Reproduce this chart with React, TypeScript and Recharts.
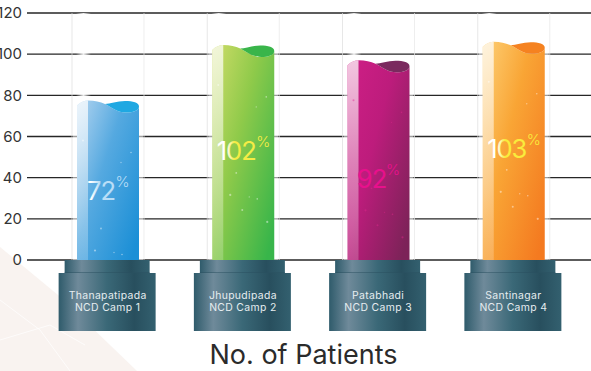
import React from 'react'
import { BarChart, Bar, XAxis, YAxis, CartesianGrid } from 'recharts'

const CAMPS = ['Thanapatipada|NCD Camp 1', 'Jhupudipada|NCD Camp 2', 'Patabhadi|NCD Camp 3', 'Santinagar|NCD Camp 4']
const PATIENTS = [77.5, 104.5, 97, 106]
const PERCENTS = [72, 102, 92, 103]
const Y_TICKS = [0, 20, 40, 60, 80, 100, 120]

const data = CAMPS.map((camp, i) => ({ camp, patients: PATIENTS[i], percent: PERCENTS[i] }))

const FONT = 'Inter, sans-serif'

// colours and the height of the % text above the base line for each tube
const TUBES = [
  { light: '#b4d5f0', mid: '#55a9e0', deep: '#1b8fd6', lens: '#1fa8e2', textL: '#ffffff', textR: '#b9def7', lift: 70 },
  { light: '#cfdc68', mid: '#8fca4a', deep: '#38b54a', lens: '#39b54a', textL: '#ffffff', textR: '#f5ec45', lift: 110 },
  { light: '#cf1f86', mid: '#bd1c7c', deep: '#7c2358', lens: '#7a2a5e', textL: '#e8108c', textR: '#e8108c', lift: 82 },
  { light: '#fdd076', mid: '#f9a535', deep: '#f47a20', lens: '#f58220', textL: '#ffffff', textR: '#f9ec3c', lift: 112 },
]

const SPARKS = [
  [6, 40, 1], [44, 62, 0.7], [54, 52, 0.8], [24, 128, 0.9], [18, 150, 1.1],
  [37, 152, 0.7], [45, 154, 0.8], [30, 165, 1], [55, 177, 1.1],
]

function Glass({ x, y, width, height }: any) {
  const cx = x + width / 2
  const left = cx - 36
  return (
    <g>
      <rect x={left + 4} y={y} width={15} height={height - 150} fill="url(#glassShine)" />
      <line x1={left} x2={left} y1={y} y2={y + height} stroke="#dcdcdc" strokeWidth={0.7} />
      <line x1={left + 72} x2={left + 72} y1={y} y2={y + height} stroke="#e6e6e6" strokeWidth={0.7} />
    </g>
  )
}

function Tube({ x, y, width, height, index, percent }: any) {
  const t = TUBES[index]
  const w = width
  const bottom = y + height
  const cx = x + w / 2
  const body = `M${x},${y + 5} C${x + 3},${y + 1.5} ${x + 8},${y} ${x + 11},${y} C${x + 18},${y} ${x + 23},${y + 1.5} ${x + 28},${y + 3.5}
    C${x + 35},${y + 7} ${x + 40},${y + 12} ${x + 49},${y + 12} C${x + 56},${y + 12} ${x + w},${y + 10} ${x + w},${y + 6} V${bottom} H${x} Z`
  const lens = `M${x + 28},${y + 3.5} C${x + 33},${y + 3.5} ${x + 40},${y + 0.5} ${x + 48},${y + 0.5} C${x + 56},${y + 0.5} ${x + w},${y + 2} ${x + w},${y + 6}
    C${x + w},${y + 10} ${x + 56},${y + 12} ${x + 49},${y + 12} C${x + 40},${y + 12} ${x + 35},${y + 7} ${x + 28},${y + 3.5} Z`
  const textY = 260 - t.lift
  const wide = String(percent).length > 2
  return (
    <g>
      <defs>
        <linearGradient id={`tube${index}`} x1="0" y1="0" x2="1" y2="0.85">
          <stop offset="0" stopColor={t.light} />
          <stop offset="0.45" stopColor={t.mid} />
          <stop offset="1" stopColor={t.deep} />
        </linearGradient>
        <linearGradient id={`pct${index}`} gradientUnits="userSpaceOnUse" x1={x + 6} x2={x + 22} y1="0" y2="0">
          <stop offset="0.5" stopColor={t.textL} />
          <stop offset="1" stopColor={t.textR} />
        </linearGradient>
      </defs>
      <rect x={x - 4} y={y + 8} width={w + 8} height={height - 8} fill="#fff" fillOpacity={0.55} />
      <path d={body} fill={`url(#tube${index})`} />
      <path d={lens} fill={t.lens} />
      <path d={`M${x},${y + 5} C${x + 3},${y + 1.5} ${x + 8},${y} ${x + 11},${y} V${bottom} H${x} Z`} fill="url(#tubeShine)" />
      {SPARKS.filter(s => y + s[1] < bottom).map((s, i) => (
        <circle key={i} cx={x + s[0]} cy={y + s[1]} r={s[2]} fill={index === 2 ? '#e0288f' : '#fff'} fillOpacity={0.45} />
      ))}
      <text x={cx - 7} y={textY + 10} textAnchor="middle" fontFamily={FONT} fontSize={25.5} letterSpacing={-1} fill={`url(#pct${index})`}>{percent}</text>
      <text x={cx + (wide ? 20 : 14.5)} y={textY - 3} textAnchor="middle" fontFamily={FONT} fontWeight={300} fontSize={15} fill={t.textR}>%</text>
    </g>
  )
}

function Pedestal({ x, payload }: any) {
  const [line1, line2] = payload.value.split('|')
  return (
    <g>
      <rect x={x - 43} y={260} width={85} height={13} fill="url(#baseMetal)" />
      <rect x={x - 49} y={273} width={97} height={58} fill="url(#baseMetal)" />
      <line x1={x - 43} x2={x + 42} y1={272.5} y2={272.5} stroke="#2a5060" strokeOpacity={0.5} />
      <text x={x} y={299} textAnchor="middle" fontFamily={FONT} fontSize={10.4} letterSpacing={0.35} fill="#e6edf0">{line1}</text>
      <text x={x} y={311} textAnchor="middle" fontFamily={FONT} fontSize={10.4} letterSpacing={0.35} fill="#e6edf0">{line2}</text>
    </g>
  )
}

export default function App() {
  return (
    <div style={{ position: 'absolute', left: 0, top: 0, width: 591, height: 371, overflow: 'hidden', background: '#fff' }}>
      <svg width={591} height={371} style={{ position: 'absolute', left: 0, top: 0 }}>
        <polygon points="0,247 58,295 137,371 0,371" fill="#f9f3f0" />
        <polyline points="0,300 40,330 70,371" fill="none" stroke="#fff" strokeOpacity={0.7} />
        <polyline points="0,340 50,325 85,345" fill="none" stroke="#fff" strokeOpacity={0.7} />
      </svg>
      <div style={{ position: 'absolute', left: 0, top: 0 }}>
        <BarChart width={591} height={371} data={data} margin={{ top: 13, right: 0, bottom: 0, left: 0 }} barCategoryGap={0}>
          <defs>
            <linearGradient id="baseMetal" x1="0" y1="0" x2="1" y2="0">
              <stop offset="0" stopColor="#2f5b6b" />
              <stop offset="0.2" stopColor="#6f8a9a" />
              <stop offset="0.5" stopColor="#3a6877" />
              <stop offset="0.78" stopColor="#284f5e" />
              <stop offset="1" stopColor="#33606f" />
            </linearGradient>
            <linearGradient id="tubeShine" x1="0" y1="0" x2="0" y2="1">
              <stop offset="0" stopColor="#fff" stopOpacity={0.75} />
              <stop offset="0.5" stopColor="#fff" stopOpacity={0.45} />
              <stop offset="1" stopColor="#fff" stopOpacity={0.2} />
            </linearGradient>
            <linearGradient id="glassShine" x1="0" y1="0" x2="1" y2="0">
              <stop offset="0" stopColor="#fff" stopOpacity={0} />
              <stop offset="0.5" stopColor="#fff" stopOpacity={0.9} />
              <stop offset="1" stopColor="#fff" stopOpacity={0} />
            </linearGradient>
          </defs>
          <CartesianGrid horizontal vertical={false} stroke="#262626" strokeWidth={1.4} strokeOpacity={1} />
          <XAxis
            dataKey="camp"
            height={111}
            axisLine={false}
            tickLine={false}
            interval={0}
            padding={{ left: 13, right: 10 }}
            tick={<Pedestal />}
          />
          <YAxis
            domain={[0, 120]}
            ticks={Y_TICKS}
            width={27}
            axisLine={false}
            tickLine={false}
            tickSize={0}
            tickMargin={5}
            tick={{ fontSize: 15, fill: '#333', fontFamily: FONT }}
          />
          <Bar dataKey="patients" barSize={62} isAnimationActive={false} background={<Glass />} shape={<Tube />} />
          <text x={303.5} y={364} textAnchor="middle" fontFamily={FONT} fontSize={27} fill="#2b2b2b">No. of Patients</text>
        </BarChart>
      </div>
    </div>
  )
}
